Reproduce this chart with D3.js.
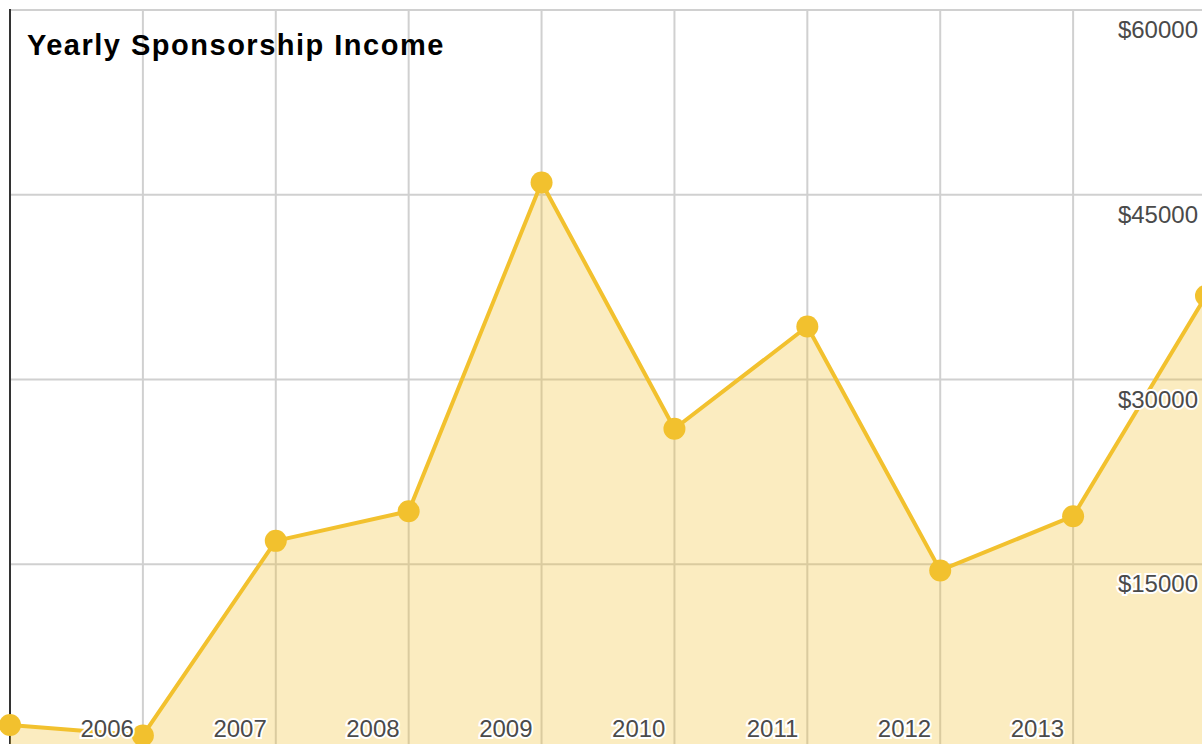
<!DOCTYPE html>
<html>
<head>
<meta charset="utf-8">
<script src="https://cdn.jsdelivr.net/npm/d3@7"></script>
<style>
  body { margin: 0; background: #fff; }
  svg { display: block; font-family: 'Liberation Sans', Arial, sans-serif; }
</style>
</head>
<body>
<svg id="chart" width="1202" height="744"></svg>
<script>
// data
const years = [2005, 2006, 2007, 2008, 2009, 2010, 2011, 2012, 2013, 2014]
const income = [1950, 1100, 16900, 19300, 46000, 26000, 34300, 14500, 18900, 36800]
const yearTicks = [2006, 2007, 2008, 2009, 2010, 2011, 2012, 2013]
const gridYears = [2006, 2007, 2008, 2009, 2010, 2011, 2012, 2013, 2014]
const incomeTicks = [15000, 30000, 45000, 60000]
const title = 'Yearly Sponsorship Income'

function drawChart() {
  const svg = d3.select('#chart')
  const lineColor = '#f2c12e'

  const x = d3.scaleLinear().domain([2005, 2014]).range([10, 1206])
  const y = d3.scaleLinear().domain([0, 60000]).range([749, 10])

  const points = years.map((yr, i) => ({ year: yr, value: income[i] }))

  // grid
  svg.append('g')
    .selectAll('line')
    .data(gridYears)
    .join('line')
    .attr('x1', d => x(d)).attr('x2', d => x(d))
    .attr('y1', y(60000)).attr('y2', 744)
    .attr('stroke', '#d0d0d0')
    .attr('stroke-width', 2)

  svg.append('g')
    .selectAll('line')
    .data(incomeTicks)
    .join('line')
    .attr('x1', x(2005)).attr('x2', 1202)
    .attr('y1', d => y(d)).attr('y2', d => y(d))
    .attr('stroke', '#d0d0d0')
    .attr('stroke-width', 2)

  // left border
  svg.append('line')
    .attr('x1', x(2005)).attr('x2', x(2005))
    .attr('y1', y(60000) - 1).attr('y2', 744)
    .attr('stroke', '#333')
    .attr('stroke-width', 2)

  const area = d3.area()
    .x(d => x(d.year))
    .y0(y(0))
    .y1(d => y(d.value))

  const line = d3.line()
    .x(d => x(d.year))
    .y(d => y(d.value))

  svg.append('path')
    .datum(points)
    .attr('d', area)
    .attr('fill', lineColor)
    .attr('fill-opacity', 0.3)

  svg.append('path')
    .datum(points)
    .attr('d', line)
    .attr('fill', 'none')
    .attr('stroke', lineColor)
    .attr('stroke-width', 4)
    .attr('stroke-linejoin', 'round')

  svg.append('g')
    .selectAll('circle')
    .data(points)
    .join('circle')
    .attr('cx', d => x(d.year))
    .attr('cy', d => y(d.value))
    .attr('r', 11)
    .attr('fill', lineColor)

  // x labels, right aligned to the gridline
  svg.append('g')
    .selectAll('text')
    .data(yearTicks)
    .join('text')
    .attr('x', d => x(d) - 9)
    .attr('y', 737)
    .attr('text-anchor', 'end')
    .attr('font-size', 24)
    .attr('fill', '#4a4a4a')
    .attr('stroke', '#fff')
    .attr('stroke-width', 4)
    .attr('paint-order', 'stroke')
    .text(d => d)

  // y labels on the right, under each gridline
  svg.append('g')
    .selectAll('text')
    .data(incomeTicks)
    .join('text')
    .attr('x', 1198)
    .attr('y', d => y(d) + 28)
    .attr('text-anchor', 'end')
    .attr('font-size', 24)
    .attr('fill', '#4a4a4a')
    .attr('stroke', '#fff')
    .attr('stroke-width', 4)
    .attr('paint-order', 'stroke')
    .text(d => d3.format('$')(d).replace(/,/g, ''))

  svg.append('text')
    .attr('x', 27)
    .attr('y', 55)
    .attr('font-size', 29)
    .attr('font-weight', 'bold')
    .attr('letter-spacing', 1.5)
    .attr('fill', '#000')
    .text(title)
}

document.addEventListener('DOMContentLoaded', drawChart, false)
</script>
</body>
</html>
